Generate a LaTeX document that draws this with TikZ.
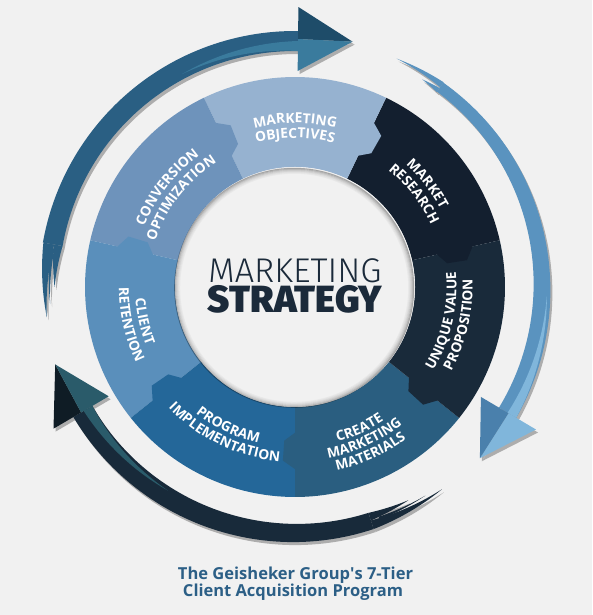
\documentclass[tikz,border=0pt]{standalone}
\usepackage{fontspec}
\usepackage{graphicx}
\setmainfont{Open Sans}
\IfFontExistsTF{Fira Sans Light}{\newfontfamily\lightfont{Fira Sans Light}}{\newfontfamily\lightfont{Fira Sans}}
\IfFontExistsTF{Fira Sans Black}{\newfontfamily\heavyfontX{Fira Sans Black}\newcommand\heavyfont{\heavyfontX}}{\IfFontExistsTF{Fira Sans ExtraBold}{\newfontfamily\heavyfontX{Fira Sans ExtraBold}\newcommand\heavyfont{\heavyfontX}}{\newfontfamily\heavyfontX{Fira Sans}\newcommand\heavyfont{\heavyfontX\bfseries}}}
\usetikzlibrary{decorations.text}

\definecolor{bg}{HTML}{F1F1F1}
\definecolor{shadowc}{HTML}{ADADAD}
\definecolor{cMO}{HTML}{96B2D0}
\definecolor{cMR}{HTML}{131F2F}
\definecolor{cCO}{HTML}{6E93BB}
\definecolor{cCR}{HTML}{5A8FBB}
\definecolor{cPI}{HTML}{246799}
\definecolor{cCMM}{HTML}{2A5E80}
\definecolor{cUVP}{HTML}{192A3A}
\definecolor{topshaft}{HTML}{2A5F83}
\definecolor{topout}{HTML}{1E4C69}
\definecolor{topin}{HTML}{3A7B9D}
\definecolor{rshaft}{HTML}{5A93BF}
\definecolor{rin}{HTML}{4A80AC}
\definecolor{rout}{HTML}{80B6DB}
\definecolor{bshaft}{HTML}{182A3A}
\definecolor{bout}{HTML}{0F1C25}
\definecolor{bin}{HTML}{2A5B6A}
\definecolor{navy}{HTML}{1B2A3A}
\definecolor{titleblue}{HTML}{2C5F86}

\newcommand\lbl{\bfseries\fontsize{13.8}{13.8}\selectfont}

% band along an arc: color, from angle, to angle, centre radius, width at from, width at to
\newcommand\band[6]{%
  \fill[#1] plot[domain=#2:#3,samples=60] ({\x}:{#4+0.5*(#5+(#6-(#5))*(\x-(#2))/((#3)-(#2)))})
    -- plot[domain=#3:#2,samples=60] ({\x}:{#4-0.5*(#5+(#6-(#5))*(\x-(#2))/((#3)-(#2)))}) -- cycle;}
% arrow head: base angle, tip angle, outer colour, inner colour
\newcommand\ahead[4]{%
  \fill[#3] ({#1}:280) -- ({#1}:248) -- ({#2}:252) -- cycle;
  \fill[#4] ({#1}:216) -- ({#1}:248) -- ({#2}:252) -- cycle;}

\newcommand\toparrow[4]{%
  \band{#1}{170}{89.3}{246}{20}{20}
  \band{#1}{170}{187}{250}{11}{0}
  \band{#1}{170}{180}{240.5}{9}{0}
  \band{#1}{171}{184}{245.5}{4}{0}
  \band{#4}{118}{89.3}{241}{0}{10}
  \ahead{89.3}{76.8}{#2}{#3}}
\newcommand\rarrow[4]{%
  \band{#1}{54}{-30.6}{247}{11}{20}
  \band{#1}{54}{66}{250}{6}{0}
  \band{#1}{54}{58.5}{243.5}{5}{0}
  \band{#4}{-2}{-30.6}{252}{0}{10}
  \ahead{-30.6}{-42.8}{#2}{#3}}
\newcommand\bottomarrow[4]{%
  \band{#1}{-72}{-149.6}{246}{17}{22}
  \band{#1}{-72}{-54}{250}{9}{0}
  \band{#1}{-72}{-62}{241.5}{8}{0}
  \band{#1}{-70}{-58}{246}{3}{0}
  \band{#4}{-122}{-149.6}{240}{0}{10}
  \ahead{-149.6}{-162.1}{#2}{#3}}

\newcommand\seg[3]{\fill[#3] ({#1}:210) arc[start angle=#1,end angle=#2,radius=210]
   -- ({#2}:120) arc[start angle=#2,end angle=#1,radius=120] -- cycle;}
\newcommand\tabp[2]{\fill[#2] ({#1+0.4}:145) -- ({#1-4}:154) -- ({#1-4}:174) -- ({#1+0.4}:183) -- cycle;}

\newcommand\cwtext[3]{%
  \path[decorate,decoration={text along path,text align=center,text color=white,text={|\lbl|#3}}]
    ({#1+55}:#2) arc[start angle=#1+55,end angle=#1-55,radius=#2];}
\newcommand\ccwtext[3]{%
  \path[decorate,decoration={text along path,text align=center,text color=white,text={|\lbl|#3}}]
    ({#1-55}:#2) arc[start angle=#1-55,end angle=#1+55,radius=#2];}

\begin{document}
\begin{tikzpicture}[x=1pt,y=1pt]
\fill[bg] (0,0) rectangle (592,615);
\useasboundingbox (0,0) rectangle (592,615);
\begin{scope}[shift={(295,328)}]
  % arrow shadows
  \begin{scope}[shift={(2,-3)}]
    \toparrow{shadowc}{shadowc}{shadowc}{shadowc}
    \rarrow{shadowc}{shadowc}{shadowc}{shadowc}
    \bottomarrow{shadowc}{shadowc}{shadowc}{shadowc}
  \end{scope}
  % arrows
  \toparrow{topshaft}{topout}{topin}{topin}
  \rarrow{rshaft}{rout}{rin}{rout}
  \bottomarrow{bshaft}{bout}{bin}{bin}
  % ring segments
  \seg{12.86}{64.29}{cMR}
  \seg{64.29}{115.71}{cMO}
  \seg{115.71}{167.14}{cCO}
  \seg{167.14}{218.57}{cCR}
  \seg{218.57}{270}{cPI}
  \seg{270}{321.43}{cCMM}
  \seg{321.43}{372.86}{cUVP}
  % puzzle tabs
  \tabp{64.29}{cMO}
  \tabp{115.71}{cCO}
  \tabp{167.14}{cCR}
  \tabp{218.57}{cPI}
  \tabp{270}{cCMM}
  \tabp{321.43}{cUVP}
  \tabp{372.86}{cMR}
  % centre disk with inner shadow
  \fill[bg] (0,0) circle (120);
  \foreach \i/\o in {0/0.30,1/0.22,2/0.15,3/0.10,4/0.06,5/0.03}
    \draw[black,opacity=\o,line width=1pt] (-0.8,-0.8) circle (119.5-\i);
  % labels
  \cwtext{90}{164}{MARKETING}
  \cwtext{90}{149}{OBJECTIVES}
  \cwtext{38}{165}{MARKET}
  \cwtext{38}{149.5}{RESEARCH}
  \cwtext{142}{162.5}{CONVERSION}
  \cwtext{142}{147}{OPTIMIZATION}
  \ccwtext{347.14}{161.5}{UNIQUE VALUE}
  \ccwtext{347.14}{177.5}{PROPOSITION}
  \ccwtext{294.5}{160.5}{CREATE}
  \ccwtext{294.5}{174.5}{MARKETING}
  \ccwtext{294.5}{188.5}{MATERIALS}
  \ccwtext{244.29}{160.5}{PROGRAM}
  \ccwtext{244.29}{175}{IMPLEMENTATION}
  \ccwtext{192.86}{160}{CLIENT}
  \ccwtext{192.86}{176}{RETENTION}
\end{scope}
\node[anchor=base,inner sep=0,text=navy] (mk) at (295,332) {\resizebox{173pt}{!}{\lightfont MARKETING}};
\node[anchor=base,inner sep=0,text=navy] (st) at (295,302) {\resizebox{174pt}{!}{\heavyfont STRATEGY}};
\node[anchor=base,inner sep=0,text=titleblue] (t1) at (295.5,35) {\resizebox{235pt}{!}{\bfseries The Geisheker Group\textquotesingle s 7-Tier}};
\node[anchor=base,inner sep=0,text=titleblue] (t2) at (293,18) {\resizebox{220pt}{!}{\bfseries Client Acquisition Program}};
\end{tikzpicture}
\end{document}
